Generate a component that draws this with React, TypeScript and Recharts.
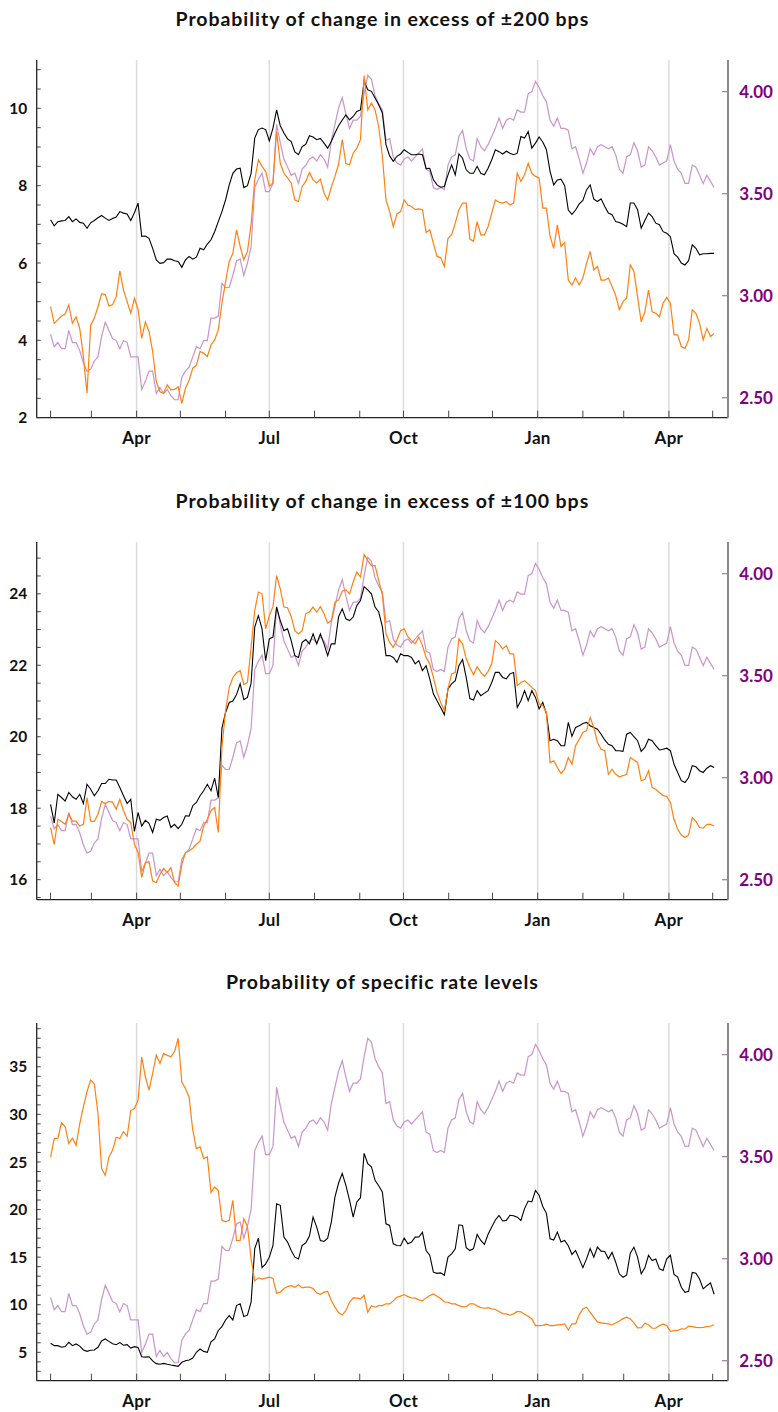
import { Line, LineChart, ReferenceLine, XAxis, YAxis } from 'recharts'

// Day numbers counted from 1 January of the first year, every 2.5 days
const days = [
  31, 33.5, 36, 38.5, 41, 43.5, 46, 48.5, 51, 53.5, 56, 58.5, 61, 63.5, 66, 68.5, 71, 73.5, 76, 78.5,
  81, 83.5, 86, 88.5, 91, 93.5, 96, 98.5, 101, 103.5, 106, 108.5, 111, 113.5, 116, 118.5, 121, 123.5, 126, 128.5,
  131, 133.5, 136, 138.5, 141, 143.5, 146, 148.5, 151, 153.5, 156, 158.5, 161, 163.5, 166, 168.5, 171, 173.5, 176, 178.5,
  181, 183.5, 186, 188.5, 191, 193.5, 196, 198.5, 201, 203.5, 206, 208.5, 211, 213.5, 216, 218.5, 221, 223.5, 226, 228.5,
  231, 233.5, 236, 238.5, 241, 243.5, 246, 248.5, 251, 253.5, 256, 258.5, 261, 263.5, 266, 268.5, 271, 273.5, 276, 278.5,
  281, 283.5, 286, 288.5, 291, 293.5, 296, 298.5, 301, 303.5, 306, 308.5, 311, 313.5, 316, 318.5, 321, 323.5, 326, 328.5,
  331, 333.5, 336, 338.5, 341, 343.5, 346, 348.5, 351, 353.5, 356, 358.5, 361, 363.5, 366, 368.5, 371, 373.5, 376, 378.5,
  381, 383.5, 386, 388.5, 391, 393.5, 396, 398.5, 401, 403.5, 406, 408.5, 411, 413.5, 416, 418.5, 421, 423.5, 426, 428.5,
  431, 433.5, 436, 438.5, 441, 443.5, 446, 448.5, 451, 453.5, 456, 458.5, 461, 463.5, 466, 468.5, 471, 473.5, 476, 478.5,
  481, 483.5, 486,
]

// Rate level, right axis (same in all three panels)
const rateLevel = [
  2.81, 2.75, 2.77, 2.74, 2.74, 2.83, 2.77, 2.77, 2.73, 2.67, 2.63, 2.64, 2.68, 2.7, 2.8, 2.87, 2.83, 2.79, 2.78, 2.74,
  2.78, 2.77, 2.7, 2.7, 2.7, 2.54, 2.58, 2.63, 2.63, 2.52, 2.55, 2.52, 2.54, 2.51, 2.49, 2.49, 2.6, 2.63, 2.65, 2.7,
  2.75, 2.74, 2.78, 2.78, 2.89, 2.89, 2.9, 3.06, 3.04, 3.04, 3.1, 3.17, 3.18, 3.1, 3.16, 3.24, 3.53, 3.57, 3.6, 3.51,
  3.51, 3.55, 3.84, 3.75, 3.67, 3.63, 3.59, 3.6, 3.55, 3.62, 3.64, 3.67, 3.68, 3.66, 3.69, 3.67, 3.63, 3.76, 3.84, 3.92,
  3.97, 3.89, 3.82, 3.86, 3.86, 3.88, 3.99, 4.08, 4.06, 3.98, 3.94, 3.91, 3.76, 3.77, 3.68, 3.65, 3.64, 3.67, 3.68, 3.66,
  3.68, 3.7, 3.72, 3.62, 3.61, 3.53, 3.52, 3.53, 3.52, 3.64, 3.68, 3.69, 3.78, 3.81, 3.72, 3.67, 3.66, 3.77, 3.73, 3.71,
  3.74, 3.78, 3.82, 3.87, 3.82, 3.86, 3.87, 3.86, 3.91, 3.9, 3.9, 3.99, 4.0, 4.05, 4.02, 3.98, 3.95, 3.86, 3.83, 3.87,
  3.82, 3.82, 3.81, 3.72, 3.73, 3.67, 3.6, 3.65, 3.72, 3.69, 3.73, 3.74, 3.73, 3.72, 3.73, 3.69, 3.62, 3.6, 3.68, 3.69,
  3.75, 3.71, 3.63, 3.64, 3.73, 3.71, 3.68, 3.64, 3.65, 3.66, 3.74, 3.66, 3.62, 3.6, 3.55, 3.55, 3.64, 3.63, 3.59, 3.55,
  3.59, 3.56, 3.53,
]

// Probability of change in excess of ±200 bps
const bps200Black = [
  7.12, 6.96, 7.07, 7.09, 7.1, 7.2, 7.07, 7.14, 7.05, 7.03, 6.9, 7.04, 7.1, 7.17, 7.23, 7.16, 7.1, 7.15, 7.19, 7.33,
  7.29, 7.27, 7.1, 7.3, 7.55, 6.69, 6.7, 6.64, 6.38, 6.08, 5.99, 6.01, 6.1, 6.1, 6.06, 6.04, 5.89, 6.08, 6.17, 6.1,
  6.15, 6.38, 6.34, 6.49, 6.6, 6.81, 7.07, 7.33, 7.63, 8.02, 8.32, 8.43, 8.45, 7.95, 8.0, 8.32, 9.23, 9.45, 9.49, 9.45,
  9.16, 9.49, 9.96, 9.55, 9.36, 9.21, 9.14, 8.87, 8.8, 9.01, 9.07, 9.29, 9.26, 9.19, 9.22, 9.1, 8.97, 9.14, 9.36, 9.55,
  9.7, 9.83, 9.7, 9.79, 9.92, 9.96, 10.7, 10.48, 10.44, 10.27, 10.09, 9.88, 9.06, 8.77, 8.63, 8.76, 8.82, 8.93, 8.86, 8.8,
  8.8, 8.82, 8.8, 8.44, 8.45, 8.15, 8.02, 7.96, 7.98, 8.28, 8.54, 8.28, 8.82, 8.71, 8.41, 8.32, 8.32, 8.5, 8.32, 8.28,
  8.45, 8.67, 8.93, 8.88, 8.82, 8.89, 8.84, 8.8, 8.84, 9.27, 9.23, 9.4, 8.97, 9.1, 9.26, 9.13, 8.93, 8.37, 8.02, 8.15,
  8.17, 8.0, 7.37, 7.26, 7.37, 7.53, 7.62, 7.89, 8.02, 7.65, 7.59, 7.66, 7.46, 7.29, 7.25, 7.07, 7.05, 7.0, 6.94, 7.55,
  7.55, 7.38, 6.9, 7.1, 7.29, 7.2, 7.03, 6.99, 6.81, 6.77, 6.68, 6.24, 6.15, 6.0, 5.95, 6.06, 6.47, 6.38, 6.21, 6.24,
  6.24, 6.25, 6.25,
]
const bps200Orange = [
  4.87, 4.44, 4.53, 4.63, 4.68, 4.92, 4.44, 4.61, 4.31, 3.58, 2.63, 4.39, 4.57, 4.87, 5.2, 5.19, 4.89, 4.92, 5.13, 5.8,
  5.3, 5.0, 4.7, 5.09, 4.8, 4.05, 4.48, 4.23, 3.71, 2.93, 2.67, 2.63, 2.85, 2.72, 2.73, 2.8, 2.37, 2.76, 2.97, 3.28,
  3.36, 3.71, 3.67, 3.58, 3.88, 4.01, 4.27, 4.96, 5.52, 6.04, 6.25, 6.86, 6.43, 6.08, 6.3, 7.0, 8.15, 8.67, 8.5, 8.37,
  7.98, 8.07, 9.4, 8.58, 8.32, 8.2, 8.07, 7.63, 7.59, 7.98, 8.11, 8.34, 8.15, 8.07, 8.17, 7.81, 7.63, 7.96, 8.24, 8.56,
  9.19, 8.57, 8.54, 8.84, 8.97, 9.19, 10.85, 9.96, 10.14, 9.96, 9.53, 8.76, 7.63, 7.33, 6.94, 7.27, 7.33, 7.63, 7.5, 7.46,
  7.38, 7.4, 7.38, 6.79, 6.86, 6.51, 6.17, 6.14, 5.91, 6.64, 6.73, 7.03, 7.38, 7.55, 7.55, 6.62, 6.56, 7.07, 6.73, 6.73,
  6.94, 7.29, 7.63, 7.57, 7.55, 7.59, 7.5, 7.55, 8.32, 8.11, 8.28, 8.58, 8.32, 8.24, 8.2, 7.42, 7.42, 6.69, 6.38, 6.99,
  6.43, 6.53, 5.56, 5.43, 5.61, 5.43, 5.61, 5.99, 6.3, 5.82, 5.91, 5.56, 5.56, 5.61, 5.39, 5.16, 4.79, 5.0, 5.09, 5.95,
  5.78, 5.13, 4.48, 4.74, 5.3, 4.74, 4.7, 4.61, 4.96, 5.11, 4.96, 4.14, 4.14, 3.84, 3.79, 4.01, 4.79, 4.7, 4.44, 4.01,
  4.31, 4.1, 4.18,
]

// Probability of change in excess of ±100 bps
const bps100Black = [
  18.11, 17.59, 18.39, 18.3, 18.2, 18.44, 18.32, 18.25, 18.39, 18.13, 18.67, 18.53, 18.35, 18.49, 18.69, 18.69, 18.81, 18.79, 18.79, 18.58,
  18.35, 18.13, 18.25, 17.35, 17.88, 17.5, 17.66, 17.58, 17.32, 17.69, 17.66, 17.74, 17.78, 17.46, 17.55, 17.43, 17.55, 17.79, 17.78, 18.07,
  18.16, 18.35, 18.49, 18.67, 18.49, 18.84, 18.3, 20.24, 20.68, 20.96, 21.0, 21.18, 21.48, 21.04, 21.1, 21.5, 23.07, 23.39, 23.02, 22.13,
  22.74, 22.79, 23.63, 23.25, 22.97, 23.02, 22.69, 22.27, 22.22, 22.64, 22.72, 22.6, 22.88, 22.6, 22.88, 22.6, 22.27, 22.6, 22.6, 23.36,
  23.58, 23.3, 23.25, 23.35, 23.67, 23.81, 24.2, 24.11, 24.0, 23.63, 23.49, 23.08, 22.27, 22.27, 22.22, 22.08, 22.32, 22.27, 22.27, 22.22,
  22.04, 22.13, 21.85, 21.99, 21.62, 21.2, 21.01, 20.82, 20.62, 21.34, 21.48, 21.57, 21.99, 22.16, 21.66, 21.07, 21.03, 21.29, 21.15, 21.22,
  21.29, 21.52, 21.8, 21.8, 21.66, 21.62, 21.76, 21.8, 20.82, 21.01, 21.29, 21.01, 21.29, 21.1, 20.78, 20.96, 20.64, 19.89, 19.93, 19.89,
  19.75, 19.75, 20.4, 20.01, 20.26, 20.31, 20.37, 20.4, 20.31, 20.26, 20.21, 20.07, 19.91, 19.79, 19.75, 19.61, 19.61, 19.59, 20.07, 20.12,
  20.0, 19.89, 19.59, 19.7, 19.93, 19.89, 19.75, 19.63, 19.65, 19.68, 19.61, 19.23, 19.0, 18.77, 18.72, 18.86, 19.19, 19.16, 19.05, 19.0,
  19.12, 19.19, 19.14,
]
const bps100Orange = [
  17.46, 16.99, 17.69, 17.63, 17.55, 17.83, 17.64, 17.64, 17.5, 17.55, 18.3, 17.64, 17.63, 17.83, 18.19, 18.13, 18.19, 18.17, 17.97, 18.25,
  17.93, 17.69, 17.6, 16.99, 16.76, 16.06, 16.48, 16.5, 15.96, 15.92, 16.15, 16.31, 16.2, 16.34, 15.92, 15.82, 16.43, 16.76, 16.8, 16.88,
  16.99, 17.08, 17.5, 17.69, 17.93, 18.02, 17.32, 19.7, 20.73, 21.38, 21.66, 21.79, 21.85, 21.46, 21.52, 22.5, 23.53, 24.05, 24.0, 23.02,
  23.39, 23.64, 24.51, 24.14, 23.63, 23.61, 23.36, 22.97, 22.88, 22.97, 23.44, 23.5, 23.63, 23.49, 23.64, 23.44, 23.18, 23.25, 23.77, 23.83,
  24.07, 24.11, 24.0, 24.33, 24.61, 24.47, 25.1, 24.93, 24.79, 24.79, 24.37, 23.98, 22.88, 22.64, 22.5, 22.71, 22.97, 23.02, 22.8, 22.69,
  22.6, 22.79, 22.55, 22.22, 22.04, 21.66, 21.24, 20.96, 20.73, 21.34, 21.76, 21.8, 22.74, 22.6, 22.18, 21.94, 21.74, 21.96, 21.8, 21.69,
  21.83, 22.04, 22.69, 22.6, 22.46, 22.55, 22.32, 22.32, 21.43, 21.52, 21.57, 21.48, 21.38, 21.29, 20.92, 20.87, 20.68, 19.28, 19.33, 19.14,
  18.97, 19.09, 19.42, 19.23, 19.75, 19.93, 20.12, 20.17, 20.54, 20.26, 19.84, 19.65, 19.61, 18.95, 19.09, 18.95, 18.88, 18.91, 18.95, 19.42,
  19.35, 19.28, 18.77, 18.81, 19.05, 18.58, 18.53, 18.44, 18.35, 18.33, 18.16, 17.69, 17.41, 17.25, 17.18, 17.25, 17.74, 17.63, 17.46, 17.44,
  17.55, 17.55, 17.5,
]

// Probability of specific rate levels
const levelBlack = [
  5.95, 5.7, 5.7, 5.53, 5.6, 6.05, 5.7, 5.88, 5.65, 5.25, 5.1, 5.21, 5.25, 5.53, 6.2, 6.4, 6.15, 5.91, 5.8, 6.02,
  5.75, 5.81, 5.45, 5.6, 5.5, 4.54, 4.5, 4.54, 4.1, 3.81, 3.75, 3.84, 3.75, 3.67, 3.6, 3.53, 3.95, 4.12, 4.2, 4.4,
  5.0, 5.35, 5.1, 5.0, 6.1, 6.4, 7.3, 7.7, 8.4, 8.86, 8.4, 9.91, 10.1, 8.75, 8.9, 10.26, 15.9, 17.0, 13.9, 14.3,
  15.0, 16.23, 20.6, 20.44, 17.1, 16.58, 15.7, 15.0, 14.8, 16.23, 16.5, 17.21, 19.2, 18.16, 16.75, 16.65, 17.0, 18.68, 21.3, 22.79,
  23.8, 22.54, 21.0, 19.21, 20.8, 21.25, 25.9, 24.82, 24.5, 23.07, 22.5, 21.84, 18.5, 18.33, 16.4, 16.23, 16.2, 17.0, 16.4, 16.58,
  17.1, 17.11, 17.6, 15.7, 15.2, 13.42, 13.3, 13.35, 13.1, 15.0, 15.35, 15.88, 18.4, 18.33, 16.0, 15.7, 15.9, 17.39, 16.75, 16.33,
  17.4, 18.16, 18.9, 19.39, 18.8, 18.86, 19.4, 19.35, 19.2, 18.86, 20.1, 20.89, 20.8, 22.0, 21.5, 20.33, 19.6, 16.93, 16.8, 17.63,
  16.6, 16.75, 16.2, 15.28, 15.7, 14.82, 13.9, 14.82, 15.9, 15.0, 16.05, 15.63, 15.6, 14.82, 15.5, 14.47, 13.25, 12.89, 13.1, 15.42,
  16.05, 15.0, 13.25, 13.88, 15.2, 14.65, 14.8, 13.77, 13.6, 14.82, 15.2, 13.18, 12.9, 11.84, 11.3, 11.42, 13.4, 13.32, 12.7, 11.67,
  12.0, 12.3, 11.1,
]
const levelOrange = [
  25.5, 27.46, 27.5, 29.11, 28.7, 26.93, 27.5, 26.75, 29.0, 30.79, 32.4, 33.6, 33.2, 30.09, 24.3, 23.6, 25.5, 26.23, 27.6, 27.46,
  28.2, 27.7, 30.4, 30.61, 31.5, 36.05, 33.95, 32.54, 34.3, 36.23, 35.35, 36.4, 36.2, 36.05, 36.6, 38.0, 33.4, 32.72, 31.8, 28.33,
  26.4, 26.58, 25.35, 25.53, 21.8, 22.37, 22.0, 18.86, 18.7, 18.86, 20.96, 16.75, 16.75, 19.04, 18.2, 14.82, 12.5, 12.82, 12.7, 12.79,
  12.9, 12.75, 11.2, 11.32, 11.7, 11.91, 12.0, 11.84, 12.1, 11.77, 11.85, 11.84, 11.7, 11.25, 11.1, 11.32, 11.4, 10.44, 9.74, 9.18,
  8.93, 9.39, 10.26, 10.72, 10.7, 10.61, 11.0, 9.21, 9.9, 9.74, 9.9, 9.91, 10.1, 10.09, 10.4, 10.79, 10.9, 11.07, 10.85, 10.72,
  10.7, 10.51, 10.4, 10.72, 10.96, 11.14, 10.9, 10.65, 10.3, 10.26, 10.1, 10.09, 9.9, 9.77, 9.8, 10.09, 10.1, 9.88, 9.7, 9.63,
  9.7, 9.56, 9.5, 9.28, 9.07, 9.04, 8.9, 9.04, 9.3, 9.25, 9.0, 8.79, 8.5, 7.81, 7.8, 7.84, 7.95, 7.81, 7.8, 7.88,
  7.9, 7.98, 7.35, 7.98, 7.98, 8.96, 9.56, 9.74, 9.2, 8.68, 8.2, 8.09, 8.05, 7.98, 7.9, 8.09, 8.3, 8.54, 8.7, 8.51,
  8.1, 7.56, 7.6, 8.05, 7.9, 7.53, 7.55, 7.81, 7.98, 7.81, 7.2, 7.28, 7.3, 7.46, 7.45, 7.74, 7.7, 7.63, 7.6, 7.63,
  7.7, 7.74, 7.9,
]

// Month starts on the date axis, and the quarter labels
const monthStarts = [31, 59, 90, 120, 151, 181, 212, 243, 273, 304, 334, 365, 396, 424, 455, 485]
const quarterDays = [90, 181, 273, 365, 455]
const quarterNames = ['Apr', 'Jul', 'Oct', 'Jan', 'Apr']
const rateTicks = [2.5, 3, 3.5, 4]

const FONT = 'Lato, "Open Sans", sans-serif'
const WIDTH = 778
const PLOT_LEFT = 36.7
const PLOT_RIGHT = 728
const PLOT_H = 357.7
const X_DOMAIN: [number, number] = [21.5, 495.5]
const RATE_DOMAIN: [number, number] = [2.402, 4.155]

const steps = (from: number, to: number, by: number) => {
  const out: number[] = []
  for (let v = from; v <= to + 1e-9; v += by) out.push(Math.round(v * 100) / 100)
  return out
}

type PanelDef = {
  title: string
  top: number
  black: number[]
  orange: number[]
  domain: [number, number]
  ticks: number[]
  labels: number[]
}

const panels: PanelDef[] = [
  {
    title: 'Probability of change in excess of ±200 bps',
    top: 60,
    black: bps200Black,
    orange: bps200Orange,
    domain: [2, 11.25],
    ticks: steps(2, 11, 0.5),
    labels: [2, 4, 6, 8, 10],
  },
  {
    title: 'Probability of change in excess of ±100 bps',
    top: 541.7,
    black: bps100Black,
    orange: bps100Orange,
    domain: [15.44, 25.45],
    ticks: steps(15.5, 25, 0.5),
    labels: [16, 18, 20, 22, 24],
  },
  {
    title: 'Probability of specific rate levels',
    top: 1022.7,
    black: levelBlack,
    orange: levelOrange,
    domain: [2.02, 39.6],
    ticks: steps(3, 39, 1),
    labels: [5, 10, 15, 20, 25, 30, 35],
  },
]

const MonthTick = ({ x, y, payload }: any) => {
  const i = quarterDays.indexOf(payload.value)
  if (i < 0) return <g />
  return (
    <text
      x={x}
      y={y + 26.6}
      textAnchor="middle"
      fontFamily={FONT}
      fontWeight={700}
      fontSize={17}
      letterSpacing={0.3}
      fill="#111"
    >
      {quarterNames[i]}
    </text>
  )
}

const EmptyTick = () => <g />

const leftTick = (labels: number[]) => ({ x, y, payload }: any) => {
  if (!labels.includes(payload.value)) return <g />
  return (
    <text x={x} y={y} dy="0.36em" textAnchor="end" fontFamily={FONT} fontWeight={700} fontSize={15.5} fill="#111">
      {payload.value}
    </text>
  )
}

const RateTick = ({ x, y, payload }: any) => (
  <text x={x} y={y} dy="0.36em" textAnchor="start" fontFamily={FONT} fontWeight={700} fontSize={17} fill="#800080">
    {Number(payload.value).toFixed(2)}
  </text>
)

function Panel({ def }: { def: PanelDef }) {
  const data = days.map((d, i) => ({ day: d, rate: rateLevel[i], black: def.black[i], orange: def.orange[i] }))
  const chartTop = def.top - 60
  return (
    <div style={{ position: 'absolute', left: 0, top: chartTop, width: WIDTH }}>
      <svg width={WIDTH} height={40} style={{ position: 'absolute', left: 0, top: 0 }}>
        <text
          x={(PLOT_LEFT + PLOT_RIGHT) / 2}
          y={26}
          textAnchor="middle"
          fontFamily={FONT}
          fontWeight={700}
          fontSize={19.5}
          letterSpacing={0.95}
          fill="#111"
        >
          {def.title}
        </text>
      </svg>
      <LineChart width={WIDTH} height={60 + PLOT_H + 40} data={data} margin={{ top: 60, right: 0, bottom: 0, left: 0 }}>
        <XAxis
          xAxisId="b"
          dataKey="day"
          type="number"
          domain={X_DOMAIN}
          allowDataOverflow
          ticks={monthStarts}
          interval={0}
          height={40}
          tickSize={-7}
          tickMargin={7}
          tick={MonthTick}
          axisLine={{ stroke: '#222', strokeWidth: 1.3 }}
          tickLine={{ stroke: '#444', strokeWidth: 1 }}
        />
        <XAxis
          xAxisId="t"
          orientation="top"
          dataKey="day"
          type="number"
          domain={X_DOMAIN}
          allowDataOverflow
          ticks={monthStarts}
          interval={0}
          height={0}
          tickSize={-7}
          tick={EmptyTick}
          axisLine={{ stroke: '#222', strokeWidth: 1.3 }}
          tickLine={{ stroke: '#444', strokeWidth: 1 }}
        />
        <YAxis
          yAxisId="l"
          domain={def.domain}
          allowDataOverflow
          ticks={def.ticks}
          interval={0}
          width={PLOT_LEFT}
          tickSize={-4}
          tickMargin={13.4}
          tick={leftTick(def.labels)}
          axisLine={{ stroke: '#222', strokeWidth: 1.3 }}
          tickLine={{ stroke: '#444', strokeWidth: 1 }}
        />
        <YAxis
          yAxisId="r"
          orientation="right"
          domain={RATE_DOMAIN}
          allowDataOverflow
          ticks={rateTicks}
          interval={0}
          width={WIDTH - PLOT_RIGHT}
          tickSize={-6}
          tickMargin={17.3}
          tick={RateTick}
          axisLine={{ stroke: '#888', strokeWidth: 2 }}
          tickLine={{ stroke: '#b07ab3', strokeWidth: 1.3 }}
        />
        {quarterDays.map((d, i) => (
          <ReferenceLine key={i} x={d} xAxisId="b" yAxisId="l" stroke="#dcdcdc" strokeWidth={1.5} />
        ))}
        <Line
          xAxisId="b"
          yAxisId="r"
          dataKey="rate"
          type="linear"
          stroke="#c993cb"
          strokeWidth={1.2}
          dot={false}
          isAnimationActive={false}
        />
        <Line
          xAxisId="b"
          yAxisId="l"
          dataKey="black"
          type="linear"
          stroke="#000"
          strokeWidth={1.1}
          dot={false}
          isAnimationActive={false}
        />
        <Line
          xAxisId="b"
          yAxisId="l"
          dataKey="orange"
          type="linear"
          stroke="#ff8010"
          strokeWidth={1.2}
          dot={false}
          isAnimationActive={false}
        />
      </LineChart>
    </div>
  )
}

export default function App() {
  return (
    <div style={{ position: 'absolute', left: 0, top: 0, width: WIDTH, height: 1412, background: '#fff' }}>
      {panels.map((p, i) => (
        <Panel key={i} def={p} />
      ))}
    </div>
  )
}
